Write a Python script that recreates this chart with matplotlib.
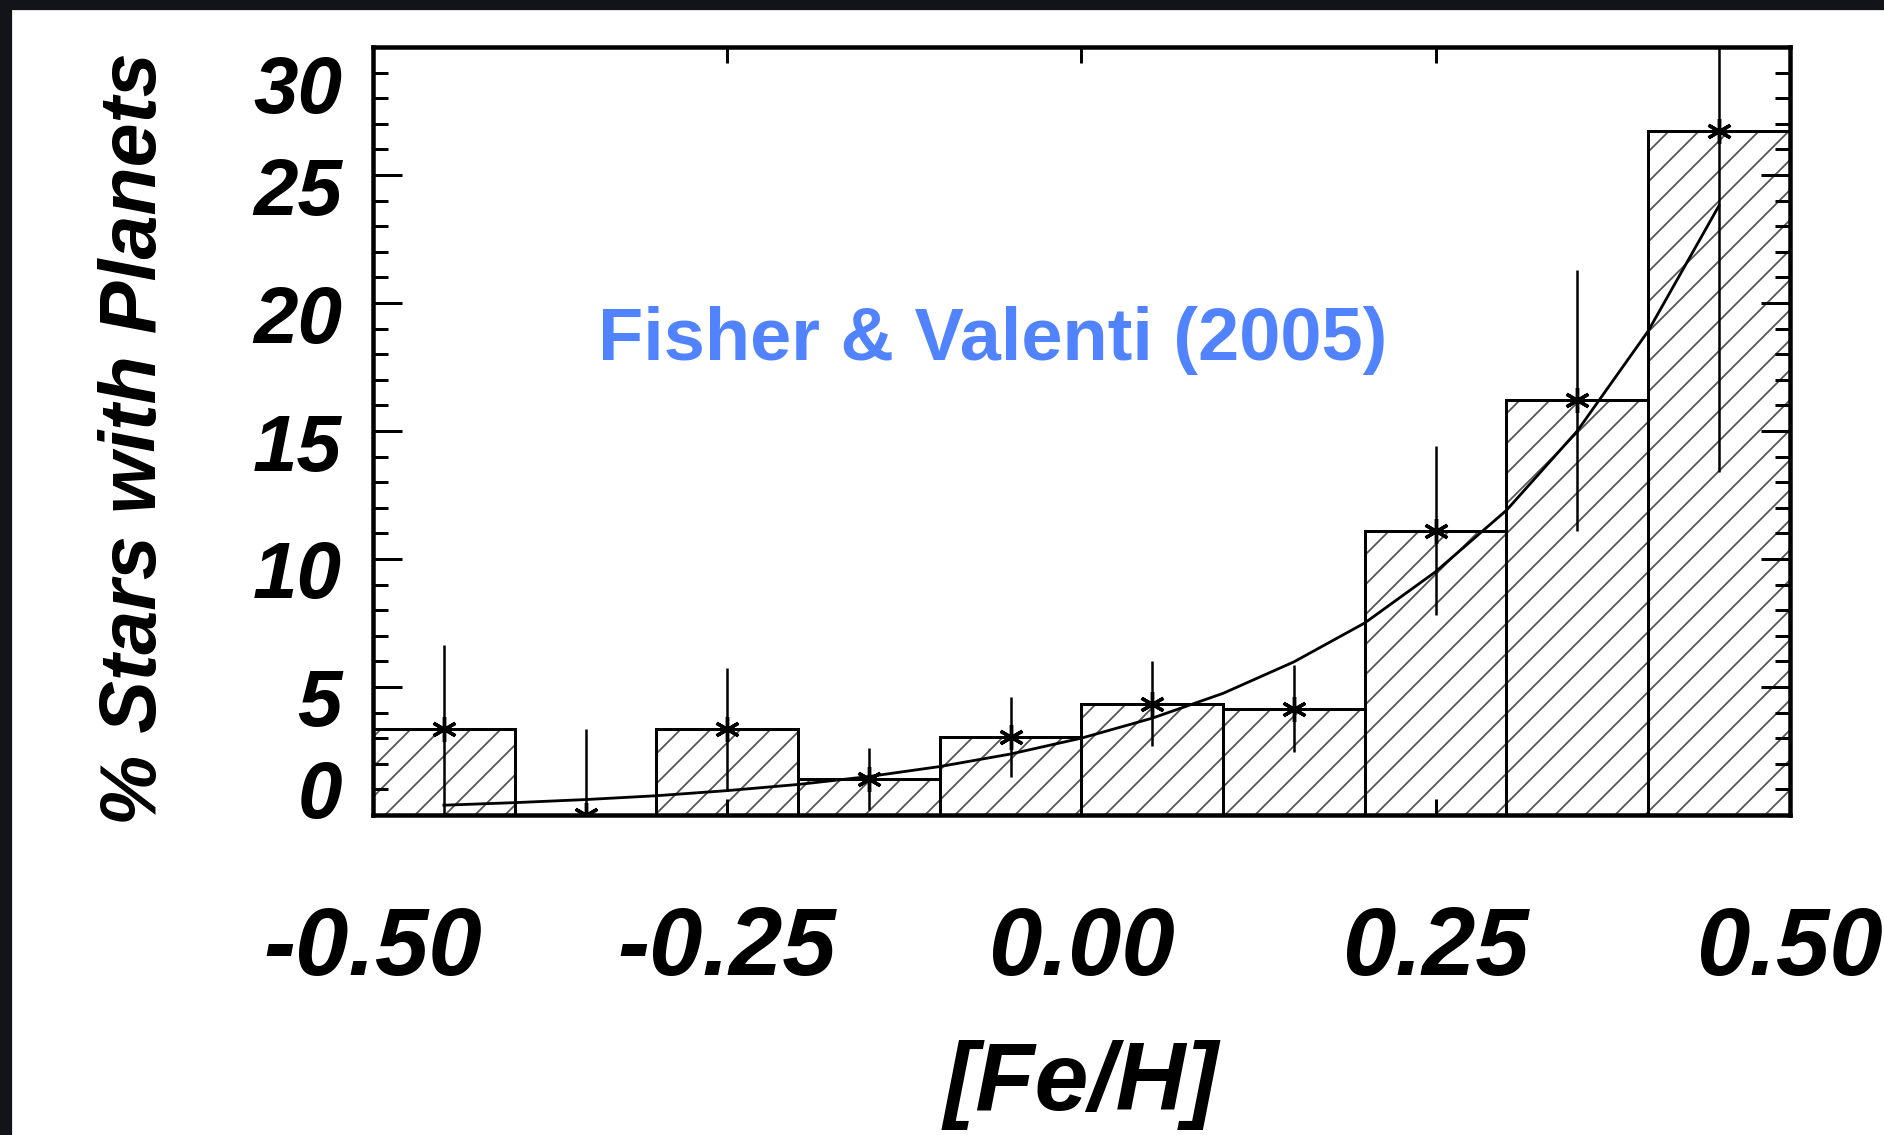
import matplotlib.pyplot as plt
from matplotlib.patches import Rectangle
from matplotlib.ticker import MultipleLocator
from matplotlib.transforms import ScaledTranslation

# histogram bins in [Fe/H] (width 0.1)
bin_left = [-0.5, -0.4, -0.3, -0.2, -0.1, 0.0, 0.1, 0.2, 0.3, 0.4]
bin_mid = [-0.45, -0.35, -0.25, -0.15, -0.05, 0.05, 0.15, 0.25, 0.35, 0.45]
pct = [3.35, 0.0, 3.35, 1.4, 3.05, 4.35, 4.15, 11.1, 16.2, 26.7]
pct_err = [3.3, 3.35, 2.4, 1.2, 1.55, 1.65, 1.7, 3.3, 5.1, 13.3]

# fitted curve
fit_x = [-0.45, -0.40, -0.35, -0.30, -0.25, -0.20, -0.15, -0.10, -0.05, 0.0,
         0.05, 0.10, 0.15, 0.20, 0.25, 0.30, 0.35, 0.40, 0.45]
fit_y = [0.38, 0.48, 0.60, 0.75, 0.95, 1.19, 1.50, 1.89, 2.38, 3.0,
         3.78, 4.75, 5.98, 7.5, 9.5, 11.9, 15.0, 18.9, 23.8]

xticks = [-0.5, -0.25, 0.0, 0.25, 0.5]
xticklabels = ['-0.50', '-0.25', '0.00', '0.25', '0.50']
yticks = [0, 5, 10, 15, 20, 25, 30]
# vertical nudge of each y label in pixels (down is positive), as in the slide
ylab_shift = [-26, 10, 10, 11, 11, 11, 37]

DPI = 90  # lower dpi -> denser hatch, sizes below given in pixels


def px(p):
    return p * 72 / DPI


plt.rcParams['font.family'] = ['Liberation Sans', 'DejaVu Sans']
plt.rcParams['hatch.linewidth'] = px(1.8)

fig = plt.figure(figsize=(1884 / DPI, 1135 / DPI), dpi=DPI)
ax = fig.add_axes([0.198, 0.282, 0.752, 0.6766])

# hatched fill, then black outlines
ax.bar(bin_left, pct, width=0.1, align='edge', color='none',
       edgecolor='#555555', linewidth=0, hatch='/')
ax.bar(bin_left, pct, width=0.1, align='edge', color='none',
       edgecolor='black', linewidth=px(3))

ax.plot(fit_x, fit_y, color='black', lw=px(2.8))
ax.errorbar(bin_mid, pct, yerr=pct_err, fmt='none', ecolor='black',
            elinewidth=px(2.5), capsize=0)
ax.plot(bin_mid, pct, ls='none', marker=(6, 2, 0), ms=px(25), mew=px(3.4),
        color='black')

ax.set_xlim(-0.5, 0.5)
ax.set_ylim(0, 30)
ax.set_xticks(xticks)
ax.set_xticklabels(xticklabels)
ax.set_yticks(yticks)
ax.yaxis.set_minor_locator(MultipleLocator(1))

for s in ax.spines.values():
    s.set_linewidth(px(4.5))

ax.tick_params(axis='x', which='major', direction='in', length=px(16),
               width=px(3), top=True, pad=px(90))
ax.tick_params(axis='y', which='major', direction='in', length=px(29),
               width=px(3), right=True, pad=px(31))
ax.tick_params(axis='y', which='minor', direction='in', length=px(15),
               width=px(3), right=True)

for lab in ax.get_xticklabels():
    lab.set_fontsize(px(96))
    lab.set_fontweight('bold')
    lab.set_fontstyle('italic')
for tick, dy in zip(ax.yaxis.get_major_ticks(), ylab_shift):
    lab = tick.label1
    lab.set_fontsize(px(80))
    lab.set_fontweight('bold')
    lab.set_fontstyle('italic')
    lab.set_transform(lab.get_transform() +
                      ScaledTranslation(0, -dy / DPI, fig.dpi_scale_trans))

ax.set_xlabel('[Fe/H]', fontsize=px(97), fontweight='bold', fontstyle='italic',
              va='center')
ax.xaxis.set_label_coords(0.5, -0.352)
ax.set_ylabel('% Stars with Planets', fontsize=px(79), fontweight='bold',
              fontstyle='italic', va='center')
ax.yaxis.set_label_coords(-0.168, 0.49)

ax.text(0.4375, 0.618, 'Fisher & Valenti (2005)', transform=ax.transAxes,
        ha='center', va='center', color='#5283ff', fontsize=px(74),
        fontweight='bold')

# dark slide frame on the left and top
fig.add_artist(Rectangle((0, 0), 11 / 1884, 1, transform=fig.transFigure,
                         color='#121419', zorder=10))
fig.add_artist(Rectangle((0, 1 - 9 / 1135), 1, 9 / 1135,
                         transform=fig.transFigure, color='#121419', zorder=10))

fig.savefig('out.png', dpi=DPI)
